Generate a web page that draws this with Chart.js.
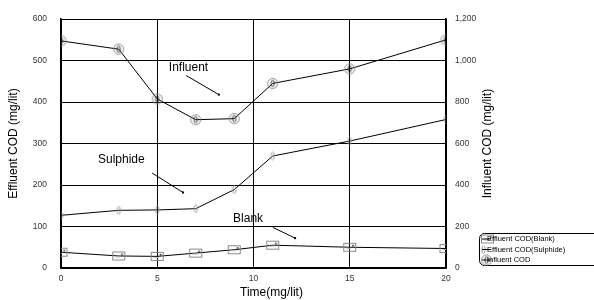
<!DOCTYPE html>
<html><head><meta charset="utf-8">
<script src="https://cdn.jsdelivr.net/npm/chart.js@4"></script>
<style>html,body{margin:0;padding:0;background:#fff;}#wrap{width:594px;height:300px;}</style>
</head><body><div id="wrap"><canvas id="c" width="594" height="300"></canvas></div>
<script>
const timeValues = [0, 3, 5, 7, 9, 11, 15, 20];
const blankCOD = [38, 29, 28, 36, 44, 55, 50, 47];
const sulphideCOD = [127, 139, 140, 143, 189, 270, 306, 358];
const influentCOD = [1095, 1055, 815, 715, 720, 890, 960, 1100];
const seriesLabels = ['Effluent COD(Blank)', 'Effluent COD(Sulphide)', 'Influent COD'];
const xTicks = [0, 5, 10, 15, 20];
const leftTicks = [0, 100, 200, 300, 400, 500, 600];
const rightTicks = [0, 200, 400, 600, 800, 1000, 1200];
// annotations in data units (x, left-axis y)
const noteLabels = ['Influent', 'Sulphide', 'Blank'];
const noteTextX = [5.6, 1.92, 8.94];
const noteTextY = [483, 261, 120];
const noteLineX1 = [6.5, 4.73, 11.0];
const noteLineY1 = [464, 229, 98];
const noteLineX2 = [8.2, 6.34, 12.16];
const noteLineY2 = [418, 182, 72];

function mk(w, h, draw) { const c = document.createElement('canvas'); c.width = w; c.height = h; draw(c.getContext('2d')); return c; }
const circleMark = mk(13, 13, g => {
  g.strokeStyle = '#8a8a8a'; g.lineWidth = 1; g.beginPath(); g.arc(6.5, 6.5, 5, 0, Math.PI * 2); g.stroke();
  g.strokeStyle = '#333'; g.beginPath(); g.ellipse(6.5, 6.5, 1.6, 3.2, 0, 0, Math.PI * 2); g.stroke();
});
const ovalMark = mk(7, 11, g => {
  g.strokeStyle = '#9a9a9a'; g.lineWidth = 1; g.beginPath(); g.ellipse(3.5, 5.5, 1.6, 4, 0, 0, Math.PI * 2); g.stroke();
});
const rectMark = mk(15, 11, g => {
  g.strokeStyle = '#8a8a8a'; g.lineWidth = 1; g.strokeRect(1.5, 1.5, 12, 8);
  g.strokeStyle = '#bbb'; g.beginPath(); g.moveTo(4, 6.5); g.lineTo(9, 6.5); g.stroke();
  g.fillStyle = '#111'; g.fillRect(10, 3, 1.5, 1.5);
});

const toPts = ys => timeValues.map((x, i) => ({ x: x, y: ys[i] }));

const overlay = {
  id: 'overlay',
  afterDraw(chart) {
    const g = chart.ctx, xs = chart.scales.x, yl = chart.scales.yL;
    g.save();
    g.fillStyle = '#000'; g.font = '12px "Liberation Sans", Arial, sans-serif';
    g.textBaseline = 'middle'; g.textAlign = 'left';
    noteLabels.forEach((t, i) => {
      g.fillText(t, xs.getPixelForValue(noteTextX[i]), yl.getPixelForValue(noteTextY[i]));
      const x1 = xs.getPixelForValue(noteLineX1[i]), y1 = yl.getPixelForValue(noteLineY1[i]);
      const x2 = xs.getPixelForValue(noteLineX2[i]), y2 = yl.getPixelForValue(noteLineY2[i]);
      g.strokeStyle = '#000'; g.lineWidth = 1; g.beginPath(); g.moveTo(x1, y1); g.lineTo(x2, y2); g.stroke();
      g.fillRect(x2 - 1, y2 - 1, 2, 2);
    });
    g.font = '12px "Liberation Sans", Arial, sans-serif'; g.textAlign = 'center';
    const cy = (chart.chartArea.top + chart.chartArea.bottom) / 2;
    g.save(); g.translate(chart.chartArea.left - 47, cy); g.rotate(-Math.PI / 2); g.fillText('Effluent COD (mg/lit)', 0, 0); g.restore();
    g.save(); g.translate(chart.chartArea.right + 42, cy); g.rotate(-Math.PI / 2); g.fillText('Influent COD (mg/lit)', 0, 0); g.restore();
    g.fillText('Time(mg/lit)', (chart.chartArea.left + chart.chartArea.right) / 2 + 18, chart.chartArea.bottom + 25);
    const lx = chart.chartArea.right + 33, ly = chart.chartArea.bottom - 35;
    g.strokeStyle = '#000'; g.lineWidth = 1;
    g.beginPath(); g.roundRect(lx + 0.5, ly + 0.5, 140, 32, 5); g.stroke();
    g.font = '7.5px "Liberation Sans", Arial, sans-serif'; g.textAlign = 'left';
    const marks = [rectMark, ovalMark, circleMark];
    seriesLabels.forEach((t, i) => {
      const yy = ly + 6 + i * 10.5;
      g.drawImage(marks[i], lx + 1, yy - marks[i].height / 2);
      g.beginPath(); g.moveTo(lx + 3, yy); g.lineTo(lx + 12, yy); g.stroke();
      g.fillText(t, lx + 8, yy);
    });
    g.restore();
  }
};

const tickFont = { family: '"Liberation Sans", Arial, sans-serif', size: 8.5 };
new Chart(document.getElementById('c'), {
  type: 'scatter',
  data: {
    datasets: [
      { label: seriesLabels[0], data: toPts(blankCOD), yAxisID: 'yL', showLine: true, borderColor: '#000', borderWidth: 1, pointStyle: rectMark, pointRadius: 6 },
      { label: seriesLabels[1], data: toPts(sulphideCOD), yAxisID: 'yL', showLine: true, borderColor: '#000', borderWidth: 1, pointStyle: ovalMark, pointRadius: 5 },
      { label: seriesLabels[2], data: toPts(influentCOD), yAxisID: 'yR', showLine: true, borderColor: '#000', borderWidth: 1, pointStyle: circleMark, pointRadius: 6 }
    ]
  },
  options: {
    responsive: false, animation: false,
    layout: { padding: { top: 17, left: 0, right: 0, bottom: 0 } },
    plugins: { legend: { display: false }, tooltip: { enabled: false } },
    scales: {
      x: {
        type: 'linear', min: 0, max: 20,
        afterBuildTicks: s => { s.ticks = xTicks.map(v => ({ value: v })); },
        afterFit: s => { s.height = 32; },
        grid: { color: '#000', lineWidth: 1, drawTicks: false },
        border: { color: '#000', width: 1.5 },
        ticks: { font: tickFont, color: '#333', padding: 6, maxRotation: 0 }
      },
      yL: {
        position: 'left', min: 0, max: 600,
        afterBuildTicks: s => { s.ticks = leftTicks.map(v => ({ value: v })); },
        afterFit: s => { s.width = 61; },
        grid: { color: '#000', lineWidth: 1, drawTicks: false },
        border: { color: '#000', width: 1.5 },
        ticks: { font: tickFont, color: '#333', padding: 14 }
      },
      yR: {
        position: 'right', min: 0, max: 1200,
        afterBuildTicks: s => { s.ticks = rightTicks.map(v => ({ value: v })); },
        afterFit: s => { s.width = 148; },
        grid: { display: false, drawTicks: false },
        border: { color: '#000', width: 1.5 },
        ticks: { font: tickFont, color: '#333', padding: 9, callback: v => v.toLocaleString('en-US') }
      }
    }
  },
  plugins: [overlay]
});
</script></body></html>
